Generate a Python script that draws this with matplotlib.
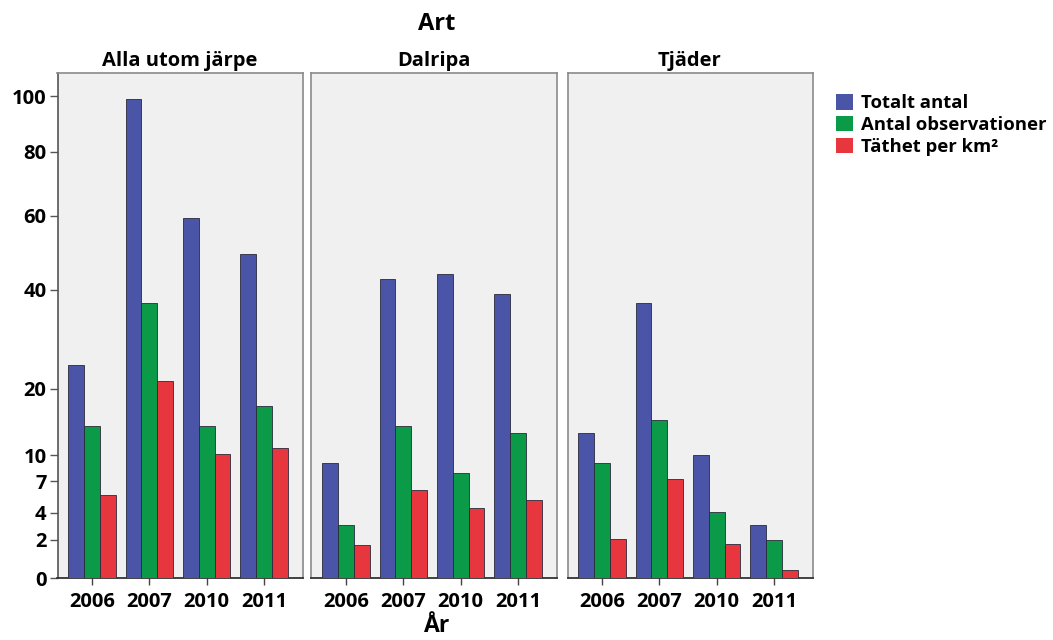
import numpy as np
import matplotlib
matplotlib.use("Agg")
import matplotlib.pyplot as plt
from matplotlib.patches import Patch

plt.rcParams["font.family"] = ["Open Sans", "DejaVu Sans"]

# --- data ---
years = ["2006", "2007", "2010", "2011"]
species = ["Alla utom järpe", "Dalripa", "Tjäder"]
series = ["Totalt antal", "Antal observationer", "Täthet per km²"]
colors = ["#4a55a8", "#0a9a48", "#e8363f"]

alla_totalt = [24.8, 99.0, 59.3, 49.6]
alla_obs = [14.5, 37.4, 14.5, 17.5]
alla_tathet = [5.7, 21.7, 10.2, 11.1]

dalripa_totalt = [9.1, 43.0, 44.2, 39.1]
dalripa_obs = [3.1, 14.4, 8.0, 13.4]
dalripa_tathet = [1.75, 6.2, 4.5, 5.2]

tjader_totalt = [13.4, 37.3, 10.1, 3.1]
tjader_obs = [9.1, 15.4, 4.07, 2.0]
tjader_tathet = [2.05, 7.3, 1.77, 0.42]

# irregular (roughly square-root like) value axis of the original
scale_vals = [0, 2, 4, 7, 10, 20, 40, 60, 80, 100, 110]
scale_pos = [0, 38, 65, 96.5, 122.5, 189, 288, 362, 426, 481.5, 509]
ytick_vals = [0, 2, 4, 7, 10, 20, 40, 60, 80, 100]


def fwd(v):
    return np.interp(v, scale_vals, scale_pos)


def inv(p):
    return np.interp(p, scale_pos, scale_vals)


panels = [
    (alla_totalt, alla_obs, alla_tathet),
    (dalripa_totalt, dalripa_obs, dalripa_tathet),
    (tjader_totalt, tjader_obs, tjader_tathet),
]

W, H = 1053, 640
fig = plt.figure(figsize=(W / 100, H / 100), dpi=100)

panel_left = [57.5, 311.5, 567.5]
panel_w = 245.0
bottom_px, top_px = 578.0, 72.7

x = np.arange(len(years))
bw = 0.276

for i, (name, vals) in enumerate(zip(species, panels)):
    ax = fig.add_axes([panel_left[i] / W, (H - bottom_px) / H,
                       panel_w / W, (bottom_px - top_px) / H])
    ax.set_facecolor("#f0f0f0")
    ax.set_yscale("function", functions=(fwd, inv))
    for k, (v, c) in enumerate(zip(vals, colors)):
        ax.bar(x + (k - 1) * bw, v, width=bw, color=c,
               edgecolor="#2a2a3a", linewidth=0.6, zorder=3)
    ax.set_xlim(-0.6, 3.67)
    ax.set_ylim(0, 108.6)
    ax.set_xticks(x)
    ax.set_xticklabels(years, fontsize=14.5, fontweight="bold")
    ax.tick_params(axis="x", length=5, width=1, color="#444444", pad=5)
    for s in ["top", "right", "left"]:
        ax.spines[s].set_color("#8a8a8a")
        ax.spines[s].set_linewidth(1.2)
    ax.spines["bottom"].set_color("#333333")
    ax.spines["bottom"].set_linewidth(1.3)
    if i == 0:
        ax.set_yticks(ytick_vals)
        ax.set_yticklabels([str(v) for v in ytick_vals], fontsize=14.5,
                           fontweight="bold")
        ax.tick_params(axis="y", length=6, width=1, color="#555555", pad=2)
        ax.spines["left"].set_color("#555555")
    else:
        ax.set_yticks([])
    ax.yaxis.set_minor_locator(plt.NullLocator())
    ax.set_title(name, fontsize=14.5, fontweight="bold", pad=5)

fig.text(437 / W, 1 - 24 / H, "Art", ha="center", va="center",
         fontsize=17, fontweight="bold")
fig.text(437 / W, 1 - 626 / H, "År", ha="center", va="center",
         fontsize=16.5, fontweight="bold")

handles = [Patch(facecolor=c, edgecolor="none") for c in colors]
fig.legend(handles, series, loc="upper left",
           bbox_to_anchor=(829 / W, 1 - 87 / H), frameon=False,
           prop={"size": 13.3, "weight": "bold"}, handlelength=0.9,
           handleheight=0.9, handletextpad=0.45, labelspacing=0.2,
           borderaxespad=0)

fig.savefig("out.png", dpi=100)
